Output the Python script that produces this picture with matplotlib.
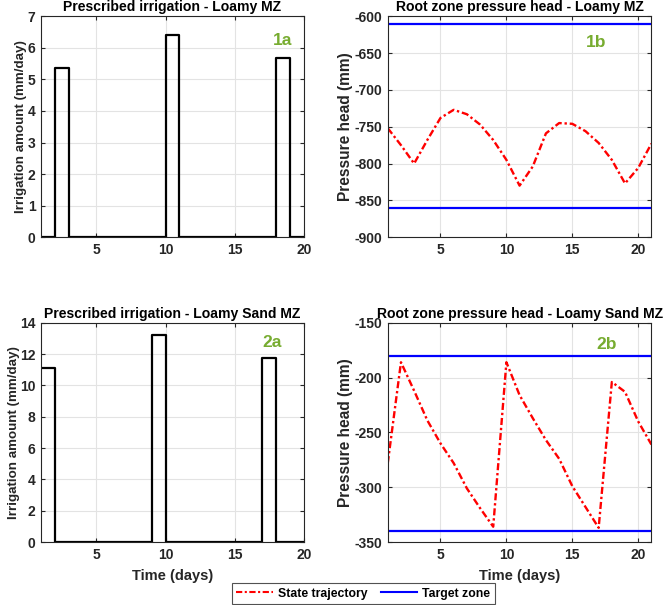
import numpy as np
import matplotlib
matplotlib.use("Agg")
import matplotlib.pyplot as plt
from matplotlib.lines import Line2D

plt.rcParams["font.family"] = ["Liberation Sans", "DejaVu Sans"]
plt.rcParams["font.weight"] = "bold"
plt.rcParams["axes.labelweight"] = "bold"
plt.rcParams["axes.titleweight"] = "bold"
plt.rcParams["axes.unicode_minus"] = False

# irrigation steps: value applied from day i to day i+1
days_irr = np.arange(1, 21)
irr_loamy = [0, 5.36, 0, 0, 0, 0, 0, 0, 0, 6.41, 0, 0, 0, 0, 0, 0, 0, 5.69, 0, 0]
irr_sand = [11.09, 0, 0, 0, 0, 0, 0, 0, 13.25, 0, 0, 0, 0, 0, 0, 0, 11.78, 0, 0, 0]

# root zone pressure head, daily
days_h = np.arange(1, 22)
head_loamy = [-752, -775, -800, -768, -738, -727, -733, -747, -768, -795, -830,
              -804, -759, -745, -746, -756, -772, -795, -827, -806, -773]
head_sand = [-278, -186, -212, -239, -260, -278, -301, -319, -336, -186, -216,
             -237, -257, -274, -299, -318, -337, -204, -213, -240, -261]

target_loamy = (-610, -860)
target_sand = (-180, -340)

green = "#77AC30"
dark = "#262626"
fs = 10
dashdot = (0, (3, 1.2, 1, 1.2))

fig = plt.figure(figsize=(6.64, 6.05), dpi=100)
ax1 = fig.add_axes([0.0617, 0.608, 0.396, 0.365])
ax2 = fig.add_axes([0.584, 0.608, 0.397, 0.365])
ax3 = fig.add_axes([0.0617, 0.104, 0.396, 0.3625])
ax4 = fig.add_axes([0.584, 0.104, 0.397, 0.3625])


def style(ax):
    ax.grid(True, color="#e3e3e3", linewidth=0.8)
    ax.set_axisbelow(True)
    ax.tick_params(direction="in", top=True, right=True, labelsize=fs,
                   length=3, width=0.8, colors=dark, pad=4)
    for s in ax.spines.values():
        s.set_color(dark)
        s.set_linewidth(0.8)


def irrigation(ax, vals, title, ylim, yticks, tag, tx, ty, labx):
    x = np.append(days_irr, 21)
    y = np.append(vals, vals[-1])
    ax.step(x, y, where="post", color="black", linewidth=1.6)
    ax.set_xlim(1, 20)
    ax.set_ylim(*ylim)
    ax.set_xticks([5, 10, 15, 20])
    ax.set_yticks(yticks)
    ax.set_title(title, fontsize=10.1, pad=3.5, color="black")
    ax.set_ylabel("Irrigation amount (mm/day)", fontsize=9.6, color=dark)
    ax.yaxis.set_label_coords(labx, 0.5)
    ax.text(tx, ty, tag, transform=ax.transAxes, color=green,
            fontsize=12.5, fontweight="bold", ha="center", va="center")
    style(ax)


def pressure(ax, vals, target, title, ylim, yticks, tag, tx, ty):
    ax.plot(days_h, vals, color="red", linestyle=dashdot, linewidth=1.7)
    ax.axhline(target[0], color="blue", linewidth=1.6)
    ax.axhline(target[1], color="blue", linewidth=1.6)
    ax.set_xlim(1, 21)
    ax.set_ylim(*ylim)
    ax.set_xticks([5, 10, 15, 20])
    ax.set_yticks(yticks)
    ax.set_title(title, fontsize=10.1, pad=3.5, color="black")
    ax.set_ylabel("Pressure head (mm)", fontsize=11.2, color=dark)
    ax.yaxis.set_label_coords(-0.132, 0.5)
    ax.text(tx, ty, tag, transform=ax.transAxes, color=green,
            fontsize=12.5, fontweight="bold", ha="center", va="center")
    style(ax)


irrigation(ax1, irr_loamy, "Prescribed irrigation - Loamy MZ", (0, 7), range(0, 8),
           "1a", 0.92, 0.89, -0.055)
irrigation(ax3, irr_sand, "Prescribed irrigation - Loamy Sand MZ", (0, 14), range(0, 15, 2),
           "2a", 0.88, 0.91, -0.08)
pressure(ax2, head_loamy, target_loamy, "Root zone pressure head - Loamy MZ",
         (-900, -600), range(-900, -599, 50), "1b", 0.79, 0.88)
pressure(ax4, head_sand, target_sand, "Root zone pressure head - Loamy Sand MZ",
         (-350, -150), range(-350, -149, 50), "2b", 0.83, 0.9)

ax3.set_xlabel("Time (days)", fontsize=10.5, color=dark, labelpad=5)
ax4.set_xlabel("Time (days)", fontsize=10.5, color=dark, labelpad=5)

handles = [Line2D([], [], color="red", linestyle=dashdot, linewidth=1.5),
           Line2D([], [], color="blue", linewidth=1.5)]
leg = fig.legend(handles, ["State trajectory", "Target zone"], loc="lower center",
                 bbox_to_anchor=(0.547, 0.0), ncol=2, fontsize=8.8, frameon=True,
                 fancybox=False, edgecolor=dark, handlelength=3.0,
                 borderpad=0.35, columnspacing=1.1, handletextpad=0.4,
                 borderaxespad=0.1)
leg.get_frame().set_linewidth(0.8)

fig.savefig("out.png", dpi=100)
